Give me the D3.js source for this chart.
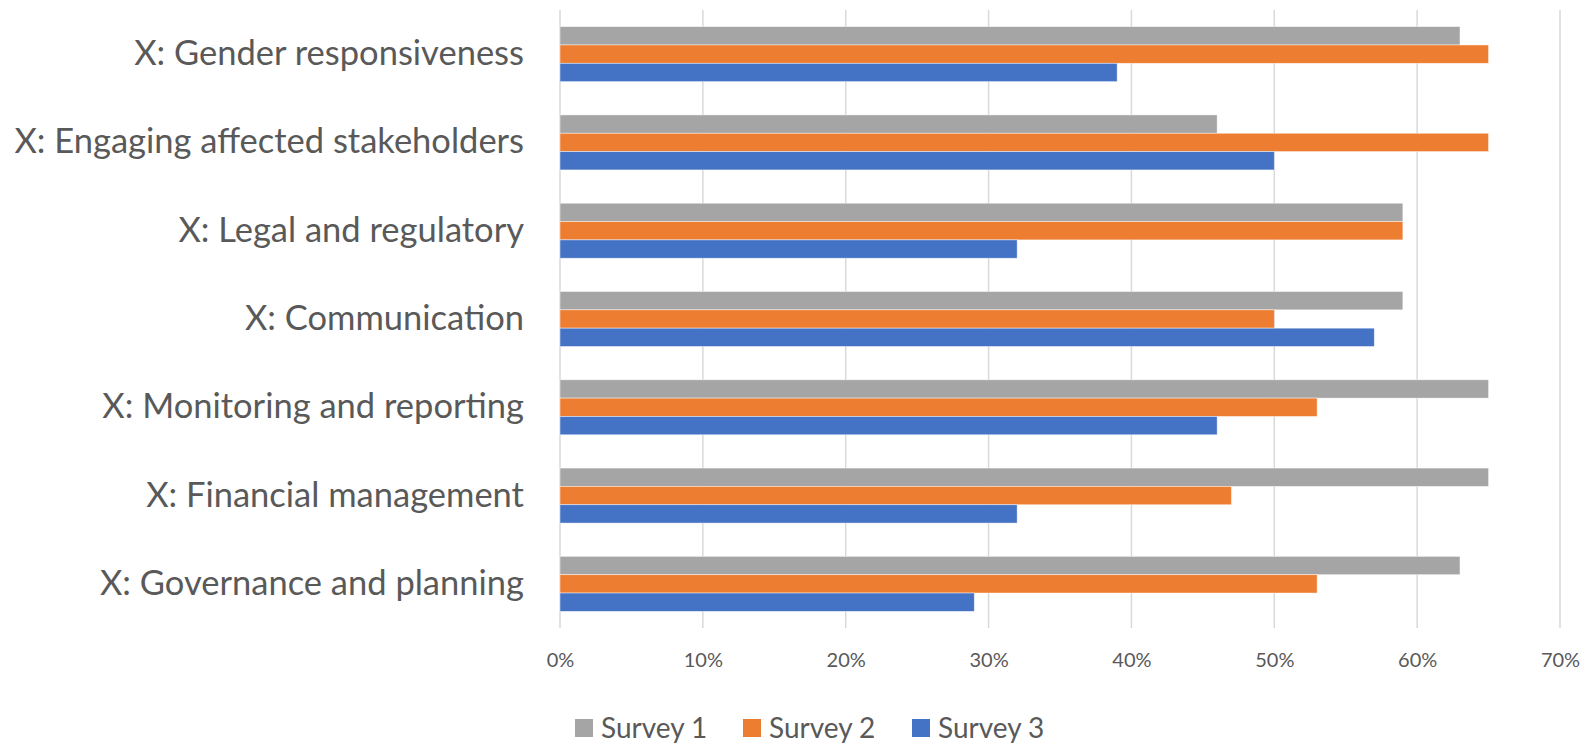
<!DOCTYPE html>
<html>
<head>
<meta charset="utf-8">
<script src="https://cdn.jsdelivr.net/npm/d3@7"></script>
<style>
  html, body { margin: 0; padding: 0; background: #fff; }
  svg { display: block; }
</style>
</head>
<body>
<svg id="chart" width="1595" height="746"></svg>
<script>
// Categories, top to bottom
const categories = [
  "X: Gender responsiveness",
  "X: Engaging affected stakeholders",
  "X: Legal and regulatory",
  "X: Communication",
  "X: Monitoring and reporting",
  "X: Financial management",
  "X: Governance and planning"
];
const seriesNames = ["Survey 1", "Survey 2", "Survey 3"];
const survey1 = [63, 46, 59, 59, 65, 65, 63];
const survey2 = [65, 65, 59, 50, 53, 47, 53];
const survey3 = [39, 50, 32, 57, 46, 32, 29];
const xTicks = [0, 10, 20, 30, 40, 50, 60, 70];
const colors = ["#A5A5A5", "#ED7D31", "#4472C4"];

const seriesValues = [survey1, survey2, survey3];
const svg = d3.select("#chart");
const font = "Lato, 'Open Sans', sans-serif";
const textColor = "#595959";

const plot = { left: 560, right: 1560, top: 10, bottom: 628 };

const x = d3.scaleLinear().domain([0, 70]).range([plot.left, plot.right]);
const y0 = d3.scaleBand().domain(categories).range([plot.top, plot.bottom])
  .paddingInner(0.377).paddingOuter(0.1885);
const y1 = d3.scaleBand().domain(seriesNames).range([0, y0.bandwidth()]);

// vertical gridlines
svg.append("g").selectAll("line").data(xTicks).join("line")
  .attr("x1", d => x(d)).attr("x2", d => x(d))
  .attr("y1", plot.top).attr("y2", plot.bottom)
  .attr("stroke", "#d9d9d9").attr("stroke-width", 1.5);

// bars
const groups = svg.append("g").selectAll("g").data(categories).join("g")
  .attr("transform", c => `translate(0,${y0(c)})`);
groups.selectAll("rect")
  .data((c, i) => seriesNames.map((s, j) => ({ s, j, v: seriesValues[j][i] })))
  .join("rect")
  .attr("x", x(0))
  .attr("y", d => y1(d.s))
  .attr("width", d => x(d.v) - x(0))
  .attr("height", y1.bandwidth())
  .attr("fill", d => colors[d.j])
  .attr("stroke", "#ffffff").attr("stroke-opacity", 0.6).attr("stroke-width", 0.75);

// category labels
const yAxis = d3.axisLeft(y0).tickSize(0).tickPadding(36);
const yg = svg.append("g").attr("transform", `translate(${plot.left},0)`).call(yAxis);
yg.select(".domain").remove();
yg.selectAll("text").attr("font-family", font).attr("font-size", 34.5)
  .attr("fill", textColor);

// x tick labels
const xAxis = d3.axisBottom(x).tickValues(xTicks).tickFormat(d => d + "%").tickSize(0).tickPadding(0);
const xg = svg.append("g").attr("transform", `translate(0,660)`).call(xAxis);
xg.select(".domain").remove();
xg.selectAll("text").attr("font-family", font).attr("font-size", 20)
  .attr("fill", textColor).attr("dy", "0.35em");

// legend
const legendX = [575, 743, 912];
const leg = svg.append("g").selectAll("g").data(seriesNames).join("g")
  .attr("transform", (d, i) => `translate(${legendX[i]},728)`);
leg.append("rect").attr("x", 0).attr("y", -9).attr("width", 18).attr("height", 18)
  .attr("fill", (d, i) => colors[i]);
leg.append("text").attr("x", 26).attr("y", 0).attr("dy", "0.35em")
  .attr("font-family", font).attr("font-size", 28).attr("fill", textColor)
  .text(d => d);
</script>
</body>
</html>
